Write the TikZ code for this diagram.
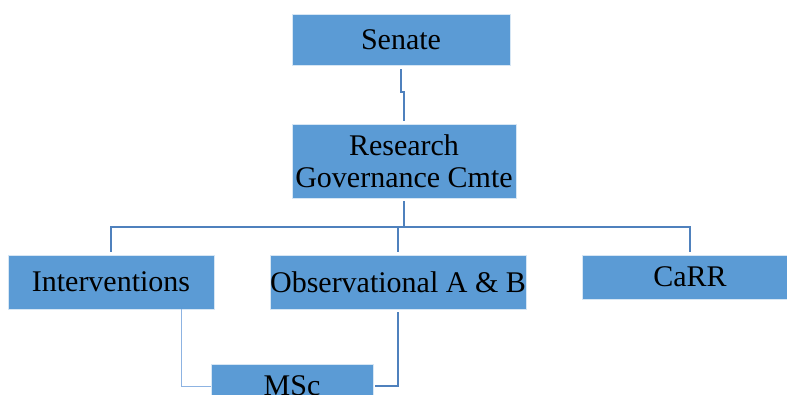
\documentclass[tikz,border=0pt]{standalone}
\usepackage{fontspec}
\setmainfont{Liberation Serif}
\definecolor{boxblue}{HTML}{5B9BD5}
\definecolor{lineblue}{HTML}{4F81BD}
\definecolor{paleblue}{HTML}{8DB3E2}
\begin{document}
\begin{tikzpicture}[x=1pt, y=-1pt,
  unit/.style={fill=boxblue, draw=white!75!boxblue, line width=0.8pt, inner sep=0pt,
    align=center, font=\fontsize{30}{32}\selectfont},
  link/.style={lineblue, line width=2pt},
  thinlink/.style={paleblue, line width=1pt}]
\useasboundingbox (0,0) rectangle (787,394);

% committees
\node[unit, minimum width=218pt, minimum height=51pt] (senate) at (401,39.5) {Senate};
\node[unit, minimum width=224pt, minimum height=74pt] (rgc) at (404,161) {Research\\Governance Cmte};
\node[unit, minimum width=206pt, minimum height=54pt] (interv) at (111,282) {Interventions};
\node[unit, minimum width=254pt, minimum height=54pt] (obs) at (398,282) {Observational A \& B};
\node[unit, minimum width=216pt, minimum height=44pt] (carr) at (690,277) {CaRR};
\node[unit, minimum width=162pt, minimum height=44pt] (msc) at (292,386) {MSc};

% links
\coordinate (bar) at (403,227);
\draw[link, shorten <=4pt, shorten >=3pt] (senate.south) -- ++(0,27) -| (rgc.north);
\draw[link, shorten <=3pt] (rgc.south) -- (rgc.south |- bar);
\draw[link, shorten <=3pt, shorten >=3pt] (interv.north) |- (bar) -| (carr.north);
\draw[link, shorten >=3pt] (obs.north |- bar) -- (obs.north);
\draw[thinlink] ([xshift=70pt]interv.south) |- (msc.west);
\draw[link, shorten <=3pt, shorten >=2pt] (obs.south) |- (msc.east);
\end{tikzpicture}
\end{document}
